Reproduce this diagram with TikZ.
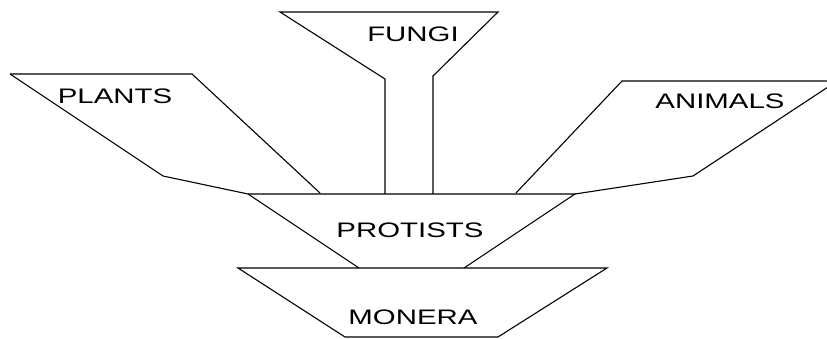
\documentclass[tikz,border=0pt]{standalone}
\usepackage{fontspec}
\setmainfont{Liberation Sans}
\usepackage{tikz}
\tikzset{kingdom/.style={font=\fontsize{21}{21}\selectfont, inner sep=0pt}}
\tikzset{outline/.style={line width=1.1pt, line join=miter}}
\newcommand{\widetext}[1]{\scalebox{1.4}[1]{#1}}

\begin{document}
\begin{tikzpicture}[x=1pt, y=-1pt]
    \useasboundingbox (0, 0) rectangle (827, 339);
    % plants
    \draw[outline] (10, 74) -- (192, 74) -- (320, 193);
    \draw[outline] (10, 74) -- (163, 176) -- (248, 194);
    % fungi
    \draw[outline] (385, 194) -- (385, 79) -- (280, 12) -- (498, 12) -- (433, 76) -- (433, 194);
    % animals
    \draw[outline] (516, 193) -- (622, 81) -- (828, 81);
    \draw[outline] (828, 87) -- (693, 176) -- (575, 194);
    % protists
    \draw[outline] (248, 194) -- (575, 194) -- (464, 268);
    \draw[outline] (248, 194) -- (359, 268);
    % monera
    \draw[outline] (238, 268) -- (607, 268) -- (498, 337) -- (345, 337) -- cycle;
    \node[kingdom] (plants) at (115, 96) {\widetext{PLANTS}};
    \node[kingdom] (fungi) at (413, 34) {\widetext{FUNGI}};
    \node[kingdom] (animals) at (720, 101) {\widetext{ANIMALS}};
    \node[kingdom] (protists) at (410, 230) {\widetext{PROTISTS}};
    \node[kingdom] (monera) at (413, 317) {\widetext{MONERA}};
\end{tikzpicture}
\end{document}
